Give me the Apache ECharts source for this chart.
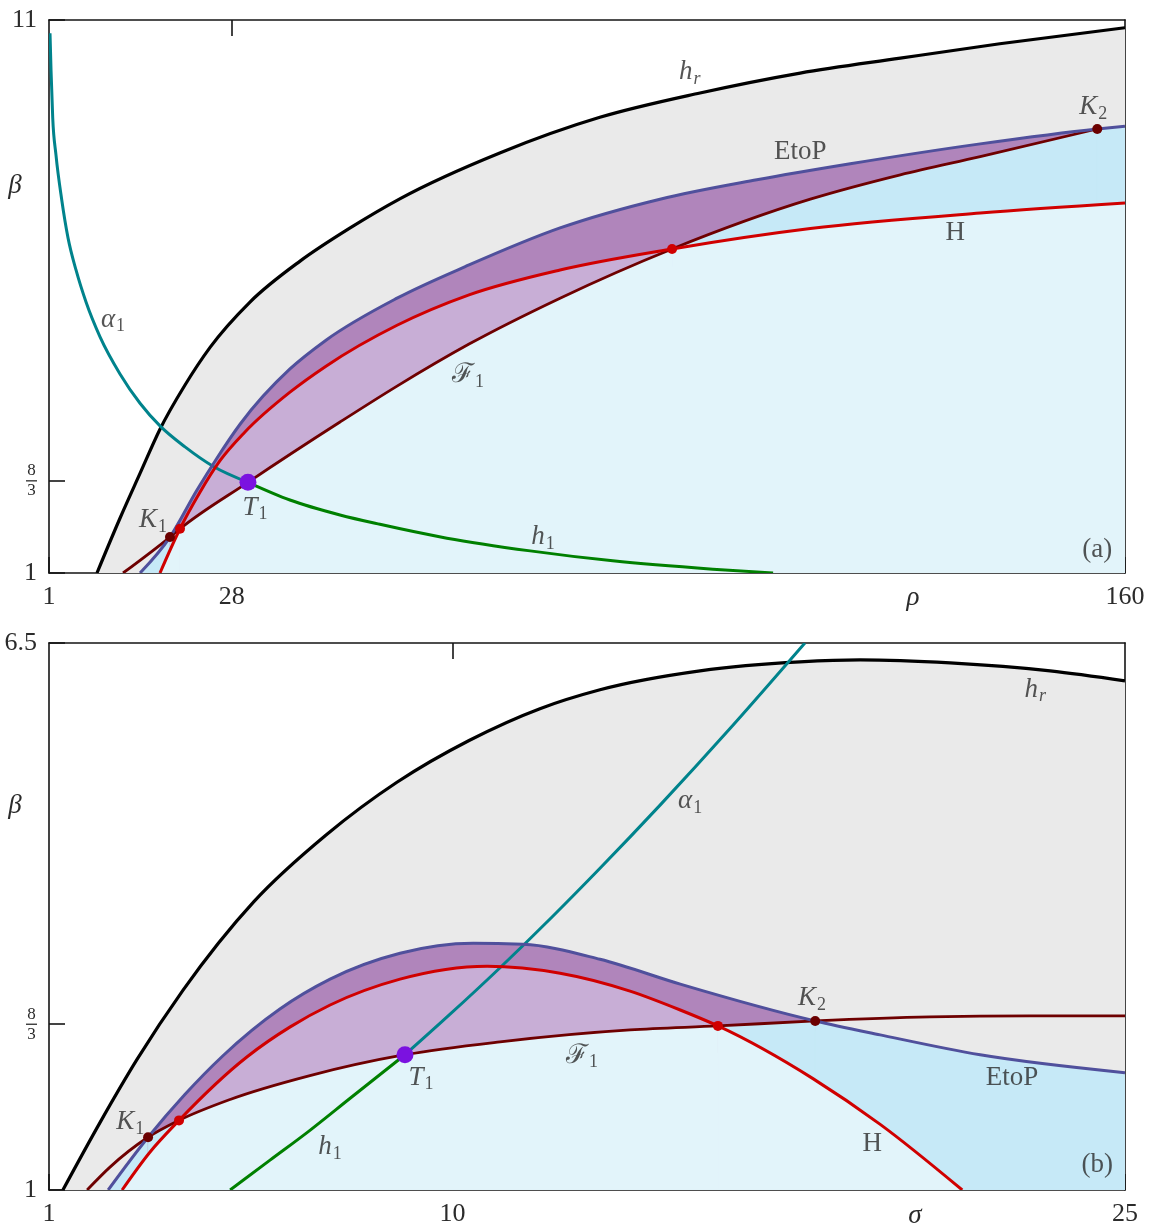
<!DOCTYPE html>
<html>
<head>
<meta charset="utf-8">
<script src="https://cdn.jsdelivr.net/npm/echarts@6/dist/echarts.min.js"></script>
<style>
  html, body { margin: 0; padding: 0; background: #fff; }
  #chart { width: 1149px; height: 1227px; }
</style>
</head>
<body>
<div id="chart"></div>
<script>
// ---------- panel (a): sigma = 10, (rho, beta) plane ----------
const rhoTicks = [1, 28, 160];
const betaTicksA = [1, 8 / 3, 11];

// codimension-two points of panel (a)
const K1a = [18.88, 1.65];   // EtoP meets F1
const Ra  = [20.36, 1.80];   // H meets F1 near K1
const T1a = [30.4, 2.64];    // T-point
const Ca  = [93.07, 6.86];   // H crosses F1
const K2a = [155.9, 9.03];   // EtoP meets F1

const hrA = [[8.09, 1.0], [11.49, 1.99], [14.45, 2.80], [17.40, 3.60], [21.1, 4.40], [24.8, 5.08],
  [30.7, 5.90], [38.1, 6.64], [45.5, 7.24], [52.9, 7.77], [67.7, 8.60], [82.4, 9.24], [97.2, 9.68],
  [112, 10.04], [126.8, 10.31], [141.5, 10.57], [160, 10.86]];
const etopA = [[14.45, 1.0], K1a, [22.87, 2.50], [25.83, 3.08], [29.23, 3.69], [36.61, 4.69],
  [41.93, 5.21], [52.43, 5.97], [63.07, 6.57], [76.52, 7.24], [91.29, 7.76], [105.6, 8.11],
  [119.4, 8.40], [138.6, 8.76], K2a, [160, 9.08]];
const hopfA = [[17.40, 1.0], Ra, [23.31, 2.46], [26.27, 3.03], [29.96, 3.55], [36.61, 4.27],
  [41.93, 4.74], [52.43, 5.48], [63.07, 6.03], [76.52, 6.48], Ca, [113.5, 7.23], [138.6, 7.51], [160, 7.69]];
const f1A = [[11.94, 1.0], K1a, Ra, T1a, [44.0, 3.73], [52.43, 4.38], [63.07, 5.14], [76.52, 5.97],
  Ca, [113.5, 7.76], [126.8, 8.20], [138.6, 8.53], K2a];
const alphaA = [[1.15, 10.76], [1.30, 10.09], [1.55, 9.23], [2.03, 8.56], [2.88, 7.75], [3.81, 7.06],
  [4.99, 6.48], [6.47, 5.90], [8.54, 5.27], [11.49, 4.60], [14.45, 4.07], [17.40, 3.66],
  [21.10, 3.28], [25.24, 2.93], T1a];
const h1A = [T1a, [36.6, 2.32], [44.0, 2.05], [49.9, 1.88], [59.8, 1.63], [72.1, 1.40],
  [84.3, 1.22], [99.1, 1.07], [108.0, 1.0]];

// ---------- panel (b): rho = 28, (sigma, beta) plane ----------
const sigmaTicks = [1, 10, 25];
const betaTicksB = [1, 8 / 3, 6.5];

const K1b = [3.21, 1.53];
const Rb  = [3.90, 1.70];
const T1b = [8.94, 2.36];
const Cb  = [15.92, 2.65];
const K2b = [18.09, 2.70];

const hrB = [[1.31, 1.0], [2.14, 1.68], [2.96, 2.31], [3.99, 3.01], [5.57, 3.90], [7.18, 4.57],
  [8.76, 5.10], [10.37, 5.52], [11.95, 5.84], [13.29, 6.03], [15.52, 6.22], [17.75, 6.31],
  [19.09, 6.33], [21.10, 6.30], [23.33, 6.22], [25, 6.12]];
const etopB = [[2.32, 1.0], K1b, [4.03, 1.96], [4.88, 2.35], [6.15, 2.82], [7.27, 3.12], [8.83, 3.38],
  [10.46, 3.48], [11.57, 3.47], [13.29, 3.32], [15.08, 3.07], K2b, [19.54, 2.56], [21.77, 2.36], [25, 2.18]];
const hopfB = [[2.63, 1.0], [3.25, 1.38], Rb, [5.42, 2.34], [6.38, 2.64], [7.27, 2.86], [8.83, 3.12],
  [10.77, 3.25], [12.40, 3.18], [13.96, 3.00], [15.08, 2.81], Cb, [18.04, 2.12], [19.54, 1.66], [21.37, 1.0]];
const f1B = [[1.85, 1.0], [2.36, 1.23], K1b, Rb, [5.04, 1.91], [6.82, 2.15], T1b, [11.06, 2.49],
  [13.96, 2.61], Cb, K2b, [20.65, 2.74], [22.88, 2.75], [25, 2.75]];
const alphaB = [T1b, [9.94, 2.765], [11.06, 3.235], [12.22, 3.745], [13.29, 4.235], [14.63, 4.87],
  [16.19, 5.64], [17.86, 6.5]];
const h1B = [[5.04, 1.0], [5.93, 1.30], [6.82, 1.60], [7.71, 1.92], T1b];

// curve annotations: [rich text, x, beta]
const notesA = [
  ['{i|h}{si|r}', 95.7, 10.06],
  ['{r|EtoP}', 112.0, 8.61],
  ['{r|H}', 134.9, 7.15],
  ['{i|α}{s|1}', 10.46, 5.58],
  ['{r|ℱ}{s|1}', 62.9, 4.58],
  ['{i|K}{s|1}', 16.37, 1.96],
  ['{i|T}{s|1}', 31.44, 2.18],
  ['{i|h}{s|1}', 74.0, 1.65],
  ['{i|K}{s|2}', 155.3, 9.43],
  ['{r|(a)}', 155.9, 1.42]
];
const notesB = [
  ['{i|h}{si|r}', 23.0, 6.03],
  ['{i|α}{s|1}', 15.30, 4.91],
  ['{i|K}{s|2}', 18.02, 2.93],
  ['{r|ℱ}{s|1}', 12.89, 2.35],
  ['{i|T}{s|1}', 9.30, 2.13],
  ['{r|EtoP}', 22.48, 2.13],
  ['{i|K}{s|1}', 2.81, 1.68],
  ['{i|h}{s|1}', 7.27, 1.43],
  ['{r|H}', 19.36, 1.46],
  ['{r|(b)}', 24.38, 1.25]
];

const serif = '"Liberation Serif", "DejaVu Serif", serif';
const ink = '#2b2b2b';
const frame = '#151515';

const col = {
  gray: '#eaeaea', darkPurple: '#b085bb', lightPurple: '#c8aed6',
  midBlue: '#c6e9f7', lightBlue: '#e2f4fa',
  hr: '#000000', etop: '#50509c', hopf: '#d00000', f1: '#6e0000',
  alpha: '#00838c', h1: '#008000', tpoint: '#7b12e0', dot: '#d00000', kdot: '#6b0000'
};

const rich = {
  i:  { fontFamily: serif, fontStyle: 'italic', fontSize: 27, lineHeight: 27, color: ink },
  r:  { fontFamily: serif, fontSize: 27, lineHeight: 27, color: ink },
  s:  { fontFamily: serif, fontSize: 18, lineHeight: 19, padding: [14, 0, 0, 1], color: ink },
  si: { fontFamily: serif, fontStyle: 'italic', fontSize: 18, lineHeight: 19, padding: [14, 0, 0, 1], color: ink }
};

// ---- monotone-in-x cubic through pixel points (same tangents for strokes and fills) ----
function tangents(P) {
  const n = P.length, t = new Array(n);
  if (n === 2) {
    const s = (P[1][1] - P[0][1]) / (P[1][0] - P[0][0]);
    t[0] = t[1] = s;
    return t;
  }
  for (let i = 1; i < n - 1; i++) {
    const h0 = P[i][0] - P[i - 1][0], h1 = P[i + 1][0] - P[i][0];
    const s0 = (P[i][1] - P[i - 1][1]) / h0, s1 = (P[i + 1][1] - P[i][1]) / h1;
    const p = (s0 * h1 + s1 * h0) / (h0 + h1);
    t[i] = (Math.sign(s0) + Math.sign(s1)) * Math.min(Math.abs(s0), Math.abs(s1), 0.5 * Math.abs(p)) || 0;
  }
  const ha = P[1][0] - P[0][0];
  t[0] = (3 * (P[1][1] - P[0][1]) / ha - t[1]) / 2;
  const hb = P[n - 1][0] - P[n - 2][0];
  t[n - 1] = (3 * (P[n - 1][1] - P[n - 2][1]) / hb - t[n - 2]) / 2;
  return t;
}

function segPath(P, t, a, b) {
  let d = 'M' + P[a][0] + ' ' + P[a][1];
  for (let i = a; i < b; i++) {
    const dx = (P[i + 1][0] - P[i][0]) / 3;
    d += ' C' + (P[i][0] + dx) + ' ' + (P[i][1] + dx * t[i]) + ' ' +
      (P[i + 1][0] - dx) + ' ' + (P[i + 1][1] - dx * t[i + 1]) + ' ' +
      P[i + 1][0] + ' ' + P[i + 1][1];
  }
  return d;
}

function shapeSeries(ax, z, build) {
  return {
    type: 'custom', coordinateSystem: 'cartesian2d', xAxisIndex: ax, yAxisIndex: ax,
    z, silent: true, clip: true, data: [[0, 0]],
    renderItem: (params, api) => build(api)
  };
}

function stroke(pts, color, width, ax) {
  return shapeSeries(ax, 3, api => {
    const P = pts.map(p => api.coord(p));
    const t = tangents(P);
    return {
      type: 'path', shape: { pathData: segPath(P, t, 0, P.length - 1) },
      style: { fill: 'none', stroke: color, lineWidth: width, lineJoin: 'round' }
    };
  });
}

// area between a portion [xa, xb] of a curve and the bottom of the panel
function fill(pts, xa, xb, color, ax) {
  return shapeSeries(ax, 1, api => {
    const P = pts.map(p => api.coord(p));
    const t = tangents(P);
    const a = pts.findIndex(p => p[0] >= xa - 1e-9);
    let b = -1;
    pts.forEach((p, i) => { if (p[0] <= xb + 1e-9) b = i; });
    const base = api.coord([pts[0][0], 1])[1];
    const d = segPath(P, t, a, b) + ' L' + P[b][0] + ' ' + base + ' L' + P[a][0] + ' ' + base + ' Z';
    return {
      type: 'path', shape: { pathData: d },
      style: { fill: color, stroke: color, lineWidth: 0.6 }
    };
  });
}

// last vertex before x / first vertex after x
const before = (curve, x) => curve.filter(p => p[0] < x - 1e-9).pop();
const after = (curve, x) => curve.find(p => p[0] > x + 1e-9);

function dots(data, color, size, ax) {
  return {
    type: 'scatter', xAxisIndex: ax, yAxisIndex: ax, data, symbolSize: size,
    itemStyle: { color, opacity: 1 }, silent: true, z: 5
  };
}

function notes(list, ax) {
  return {
    type: 'scatter', xAxisIndex: ax, yAxisIndex: ax, symbolSize: 1, silent: true, z: 6,
    itemStyle: { color: 'rgba(0,0,0,0)' },
    data: list.map(([t, x, y]) => ({
      value: [x, y],
      label: { show: true, position: 'inside', formatter: t, rich, textBorderWidth: 0, color: ink }
    }))
  };
}

function panel(c, ax) {
  const [hr, etop, hopf, f1, alpha, h1, K1, R, T1, C, K2] = c;
  const lo = -Infinity, hi = Infinity;
  // regions that span a junction point sit under the two pieces meeting there
  const underK2 = [before(f1, K2[0]), after(etop, K2[0])];
  const underC = [before(f1, C[0]), after(hopf, C[0])];
  return [
    fill(hr, lo, hi, col.gray, ax),
    fill(etop, lo, K1[0], col.midBlue, ax),
    fill(etop, K1[0], K2[0], col.darkPurple, ax),
    fill(underK2, lo, hi, col.midBlue, ax),
    fill(etop, K2[0], hi, col.midBlue, ax),
    fill(f1, K1[0], K2[0], col.midBlue, ax),
    fill(hopf, R[0], C[0], col.lightPurple, ax),
    fill(underC, lo, hi, col.lightBlue, ax),
    fill(hopf, lo, R[0], col.lightBlue, ax),
    fill(f1, R[0], C[0], col.lightBlue, ax),
    fill(hopf, C[0], hi, col.lightBlue, ax),
    stroke(hr, col.hr, 3.2, ax),
    stroke(alpha, col.alpha, 3, ax),
    stroke(h1, col.h1, 3, ax),
    stroke(f1, col.f1, 2.8, ax),
    stroke(etop, col.etop, 3, ax),
    stroke(hopf, col.hopf, 3, ax),
    dots([K1, K2], col.kdot, 10, ax),
    dots([R, C], col.dot, 10, ax),
    dots([T1], col.tpoint, 17, ax)
  ];
}

const isThird = v => Math.abs(v - 8 / 3) < 1e-6;
const fracRich = {
  n:   { fontFamily: serif, fontSize: 17, lineHeight: 15, align: 'center', color: ink },
  bar: { width: 11, height: 1.3, lineHeight: 5, fontSize: 1, backgroundColor: ink, align: 'center' },
  d:   { fontFamily: serif, fontSize: 17, lineHeight: 15, align: 'center', color: ink }
};

function xAx(grid, pos, min, max, ticks, labels) {
  return {
    type: 'value', gridIndex: grid, position: pos, min, max,
    axisLine: { show: true, onZero: false, lineStyle: { color: frame, width: 1.6 } },
    axisTick: { show: true, inside: true, length: 16, customValues: ticks, lineStyle: { color: frame, width: 1.6 } },
    axisLabel: labels ? {
      show: true, customValues: ticks, margin: 11, showMinLabel: true, showMaxLabel: true,
      fontFamily: serif, fontSize: 26, color: ink, formatter: v => String(v)
    } : { show: false },
    splitLine: { show: false }
  };
}

function yAx(grid, pos, min, max, ticks, labels) {
  return {
    type: 'value', gridIndex: grid, position: pos, min, max,
    axisLine: { show: true, onZero: false, lineStyle: { color: frame, width: 1.6 } },
    axisTick: { show: true, inside: true, length: 16, customValues: ticks, lineStyle: { color: frame, width: 1.6 } },
    axisLabel: labels ? {
      show: true, customValues: ticks, margin: 12, showMinLabel: true, showMaxLabel: true,
      fontFamily: serif, fontSize: 26, color: ink, rich: fracRich,
      formatter: v => isThird(v) ? '{n|8}\n{bar| }\n{d|3}' : String(v)
    } : { show: false },
    splitLine: { show: false }
  };
}

const chart = echarts.init(document.getElementById('chart'), null, { renderer: 'canvas' });

chart.setOption({
  animation: false,
  backgroundColor: '#ffffff',
  grid: [
    { left: 49, top: 20, width: 1076, height: 553 },
    { left: 49, top: 643, width: 1076, height: 550 }
  ],
  xAxis: [
    xAx(0, 'bottom', 1, 160, rhoTicks, true),
    xAx(0, 'top', 1, 160, [28], false),
    xAx(1, 'bottom', 1, 25, sigmaTicks, true),
    xAx(1, 'top', 1, 25, [10], false)
  ],
  yAxis: [
    yAx(0, 'left', 1, 11, betaTicksA, true),
    yAx(0, 'right', 1, 11, [8 / 3], false),
    yAx(1, 'left', 1, 6.5, betaTicksB, true),
    yAx(1, 'right', 1, 6.5, [8 / 3], false)
  ],
  graphic: [
    { type: 'text', x: 15, y: 186, style: { text: 'β', fontFamily: serif, fontStyle: 'italic', fontSize: 27, fill: ink, align: 'center', verticalAlign: 'middle' } },
    { type: 'text', x: 913, y: 598, style: { text: 'ρ', fontFamily: serif, fontStyle: 'italic', fontSize: 27, fill: ink, align: 'center', verticalAlign: 'middle' } },
    { type: 'text', x: 15, y: 806, style: { text: 'β', fontFamily: serif, fontStyle: 'italic', fontSize: 27, fill: ink, align: 'center', verticalAlign: 'middle' } },
    { type: 'text', x: 915, y: 1216, style: { text: 'σ', fontFamily: serif, fontStyle: 'italic', fontSize: 27, fill: ink, align: 'center', verticalAlign: 'middle' } }
  ],
  series: [
    ...panel([hrA, etopA, hopfA, f1A, alphaA, h1A, K1a, Ra, T1a, Ca, K2a], 0),
    notes(notesA, 0),
    ...panel([hrB, etopB, hopfB, f1B, alphaB, h1B, K1b, Rb, T1b, Cb, K2b], 2),
    notes(notesB, 2)
  ]
});
</script>
</body>
</html>
